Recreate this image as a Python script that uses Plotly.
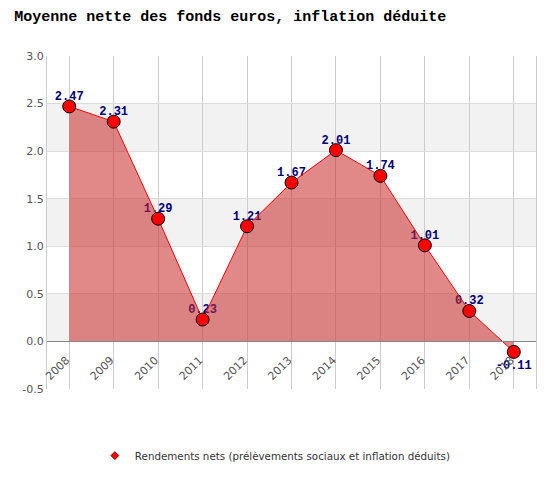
import plotly.graph_objects as go

years = ["2008", "2009", "2010", "2011", "2012", "2013", "2014", "2015", "2016", "2017", "2018"]
rendements = [2.47, 2.31, 1.29, 0.23, 1.21, 1.67, 2.01, 1.74, 1.01, 0.32, -0.11]
y_ticks = [-0.5, 0.0, 0.5, 1.0, 1.5, 2.0, 2.5, 3.0]
series_name = "Rendements nets (prélèvements sociaux et inflation déduits)"
title = "Moyenne nette des fonds euros, inflation déduite"

y_min, y_max = -0.5, 3.0
label_pos = ["bottom center" if v < 0 else "top center" for v in rendements]
# invisible spacer marker sizes -> controls distance text/point
label_gap = [11 if v < 0 else 4 for v in rendements]

fig = go.Figure()

# value labels first, so the markers sit on top of them
fig.add_trace(go.Scatter(
    x=years,
    y=rendements,
    mode="markers+text",
    marker={"size": label_gap, "opacity": 0},
    text=[f"{v:.2f}" for v in rendements],
    textposition=label_pos,
    textfont={"family": "Liberation Mono", "size": 12, "color": "#000080", "weight": "bold"},
    cliponaxis=False,
    showlegend=False,
    hoverinfo="skip",
))

# the area + line + markers
fig.add_trace(go.Scatter(
    x=years,
    y=rendements,
    mode="lines+markers",
    fill="tozeroy",
    fillcolor="rgba(200,40,40,0.55)",
    line={"color": "#ff0000", "width": 1},
    marker={"color": "#ff0000", "size": 13, "line": {"color": "#000000", "width": 1}},
    cliponaxis=False,
    showlegend=False,
))

# legend entry only (small diamond)
fig.add_trace(go.Scatter(
    x=[None], y=[None],
    mode="markers",
    marker={"symbol": "diamond", "color": "#ff0000", "size": 6, "line": {"color": "#800000", "width": 1}},
    name=series_name,
))

# alternating grey bands
for i in range(len(y_ticks) - 1):
    if i % 2 == 1:
        fig.add_hrect(y0=y_ticks[i], y1=y_ticks[i + 1], fillcolor="#f2f2f2", line_width=0, layer="below")

fig.update_layout(
    width=559,
    height=479,
    paper_bgcolor="#ffffff",
    plot_bgcolor="rgba(0,0,0,0)",
    margin={"l": 39, "r": 31, "t": 48, "b": 98, "autoexpand": False},
    title={
        "text": f"<b>{title}</b>",
        "x": 0.011, "xanchor": "left",
        "y": 0.983, "yanchor": "middle",
        "font": {"family": "Liberation Mono", "size": 15, "color": "#000000"},
    },
    xaxis={
        "type": "category",
        "range": [-0.5, len(years) - 0.5],
        "anchor": "free",
        "position": (0 - y_min) / (y_max - y_min),
        "showline": True,
        "linecolor": "#888888",
        "linewidth": 1,
        "showgrid": True,
        "gridcolor": "#cccccc",
        "gridwidth": 1,
        "tickangle": -45,
        "ticks": "",
        "ticklabelstandoff": 7,
        "ticklabelshift": -3,
        "automargin": False,
        "tickfont": {"family": "DejaVu Sans", "size": 11, "color": "#555555"},
        "zeroline": False,
    },
    yaxis={
        "range": [y_min, y_max],
        "tickvals": y_ticks,
        "ticktext": [f"{v:.1f}" for v in y_ticks],
        "showgrid": True,
        "gridcolor": "#dddddd",
        "showline": True,
        "linecolor": "#cccccc",
        "mirror": True,
        "zeroline": False,
        "ticks": "",
        "automargin": False,
        "tickfont": {"family": "DejaVu Sans", "size": 11, "color": "#555555"},
    },
    legend={
        "orientation": "h",
        "x": 0.467, "xanchor": "center",
        "y": -0.2, "yanchor": "middle",
        "font": {"family": "DejaVu Sans", "size": 10.3, "color": "#333333"},
    },
)

fig.write_html("out.html")
